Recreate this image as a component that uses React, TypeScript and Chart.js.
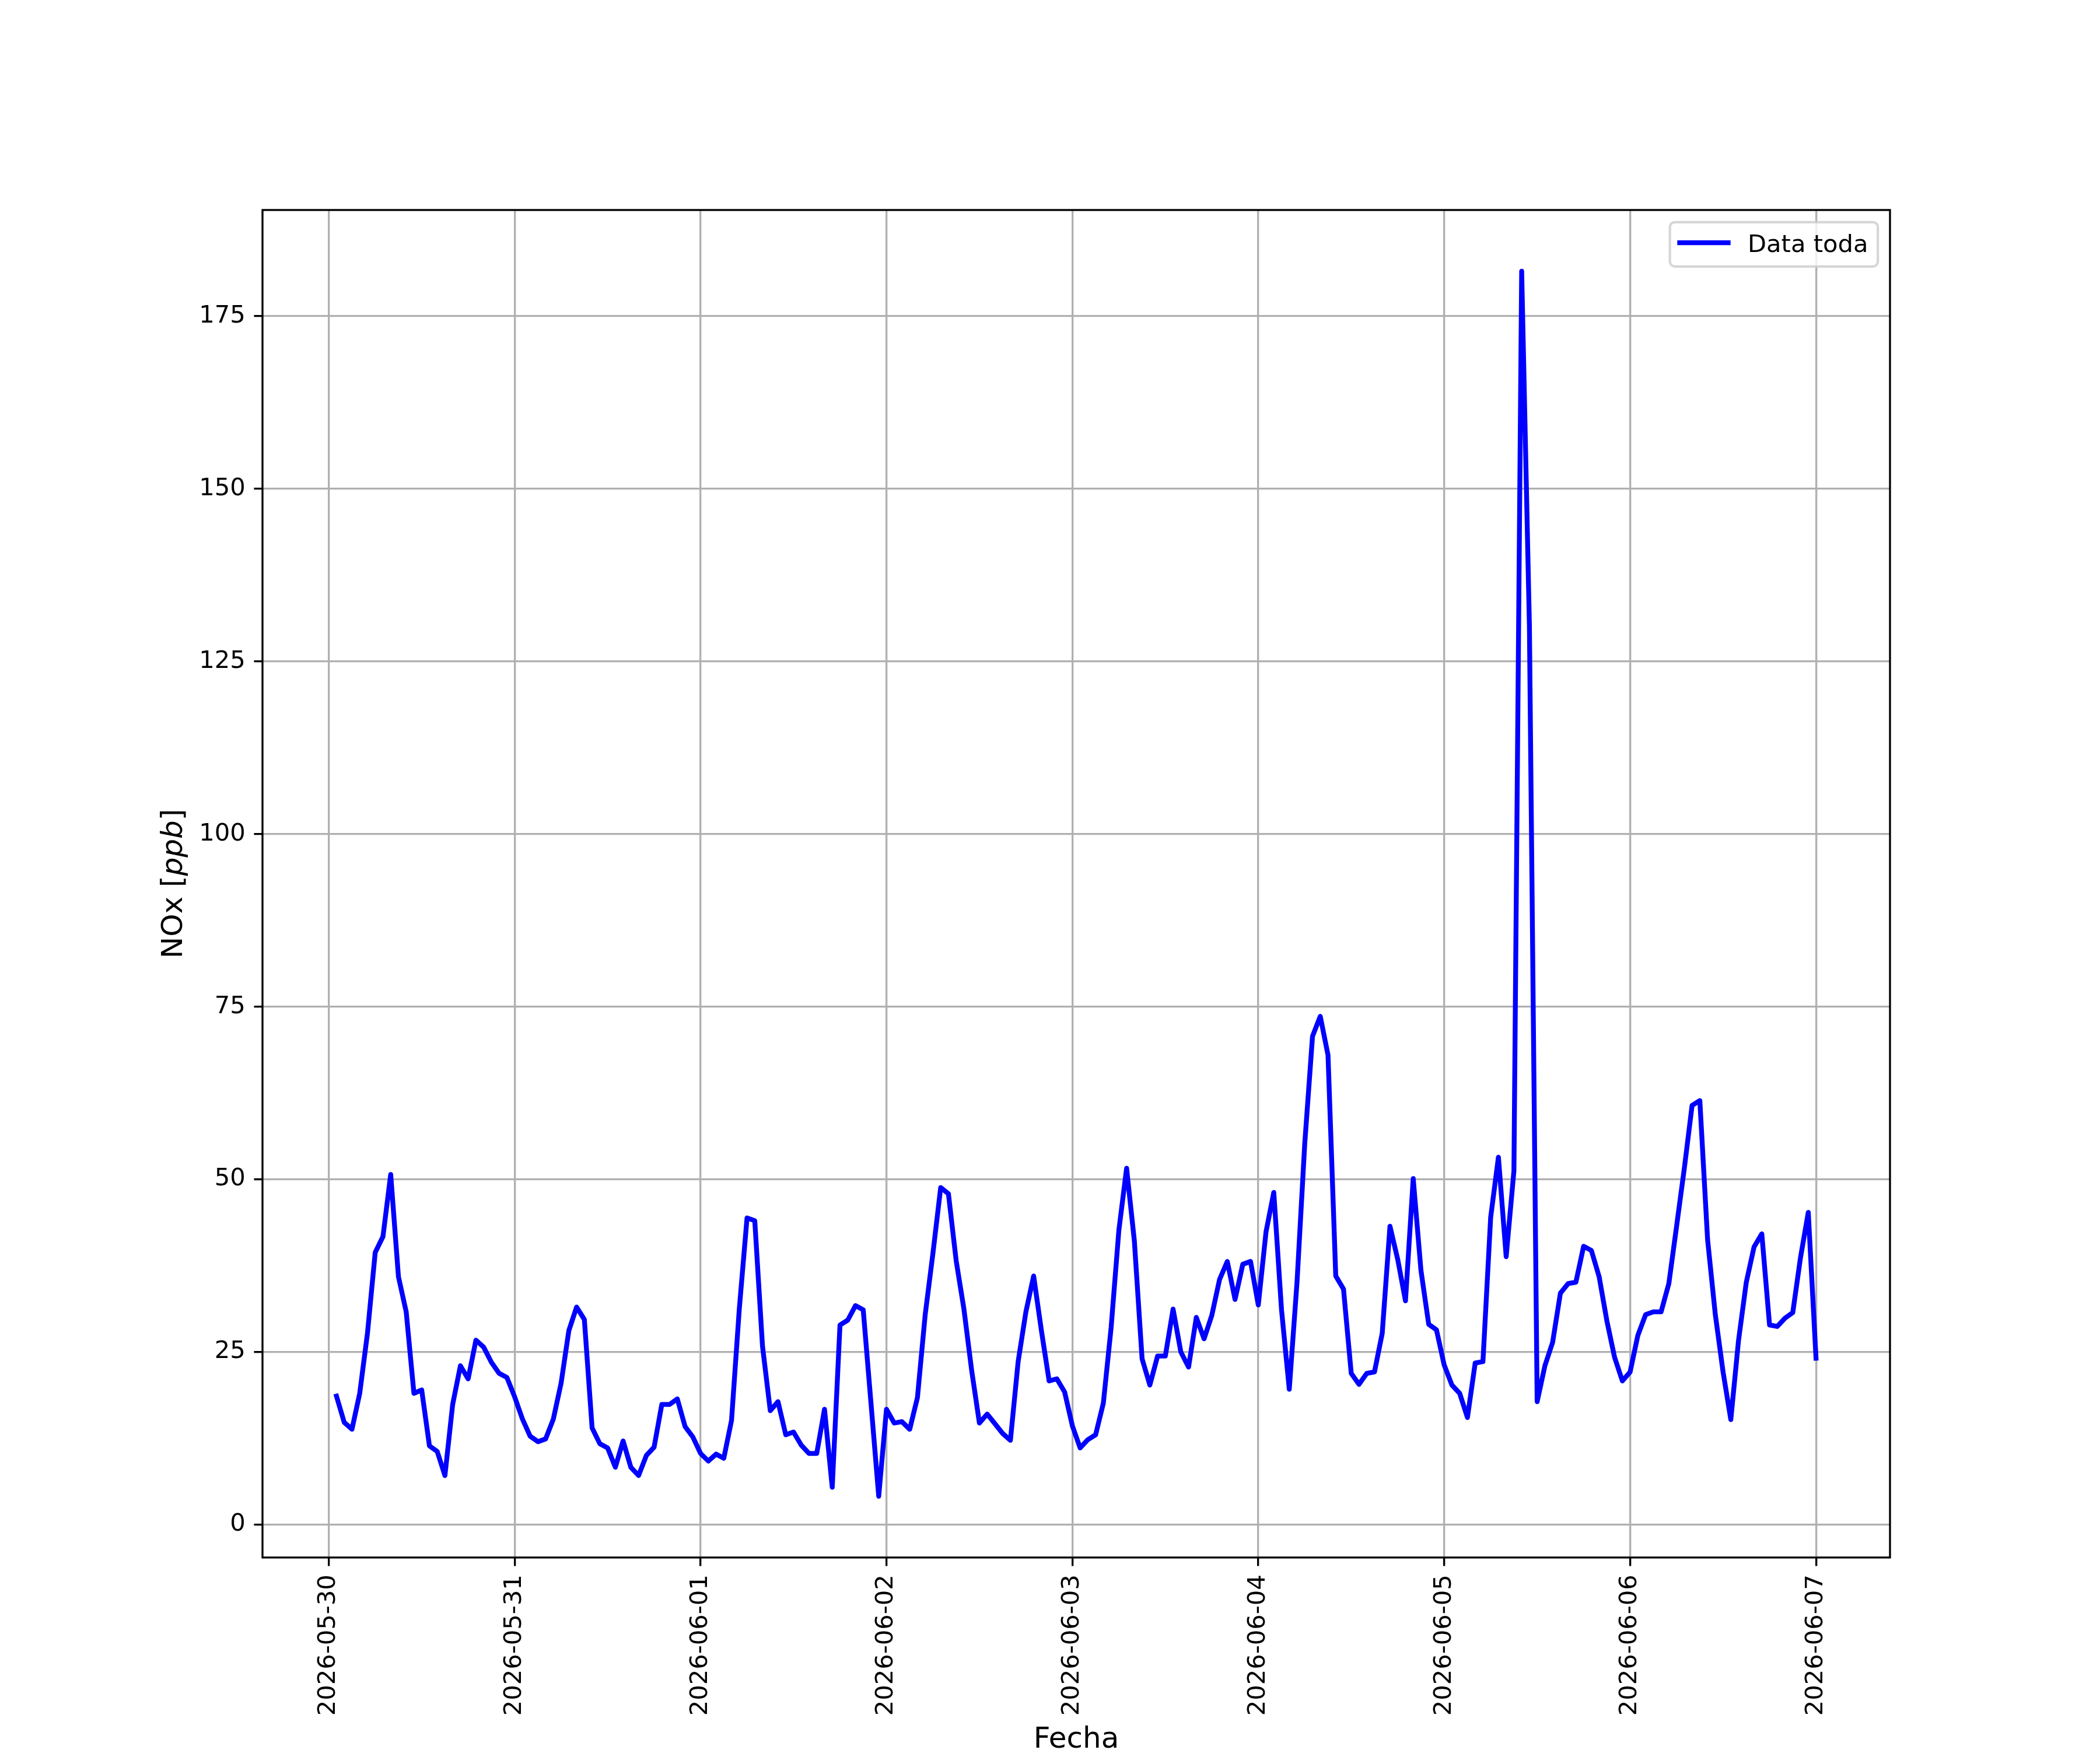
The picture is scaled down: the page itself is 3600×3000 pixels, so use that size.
import React, { useEffect, useRef } from 'react';
import { Chart, registerables } from 'chart.js';

Chart.register(...registerables);

// ---- data (hourly NOx, ppb) ----
const dayLabels = [
  '2026-05-30', '2026-05-31', '2026-06-01', '2026-06-02', '2026-06-03',
  '2026-06-04', '2026-06-05', '2026-06-06', '2026-06-07',
];
const firstHour = 1; // first sample: 2026-05-30 01:00

const nox0530 = [18.6, 14.8, 13.8, 19.0, 27.7, 39.4, 41.7, 50.7, 35.9, 30.8, 19.0, 19.5, 11.4, 10.6, 7.1, 17.4, 23.0, 21.1, 26.7, 25.7, 23.5, 21.9, 21.3];
const nox0531 = [18.5, 15.3, 12.8, 12.0, 12.4, 15.3, 20.5, 28.1, 31.5, 29.7, 14.0, 11.7, 11.1, 8.3, 12.1, 8.3, 7.1, 10.0, 11.2, 17.4, 17.4, 18.2, 14.2, 12.7];
const nox0601 = [10.3, 9.2, 10.2, 9.6, 15.1, 31.2, 44.4, 44.0, 25.8, 16.5, 17.8, 13.0, 13.4, 11.5, 10.3, 10.3, 16.7, 5.4, 28.9, 29.6, 31.7, 31.1, 17.6, 4.1];
const nox0602 = [16.7, 14.7, 14.9, 13.8, 18.4, 30.4, 39.3, 48.8, 47.9, 38.2, 31.2, 22.3, 14.7, 16.0, 14.6, 13.2, 12.2, 23.6, 30.8, 36.0, 28.1, 20.8, 21.1, 19.2];
const nox0603 = [14.3, 11.1, 12.3, 13.0, 17.6, 28.5, 42.6, 51.6, 41.1, 24.0, 20.2, 24.4, 24.4, 31.2, 25.0, 22.8, 30.0, 26.9, 30.3, 35.5, 38.1, 32.6, 37.7, 38.1];
const nox0604 = [31.8, 42.4, 48.1, 31.1, 19.6, 35.1, 55.2, 70.7, 73.6, 68.0, 36.0, 34.1, 21.9, 20.3, 21.9, 22.1, 27.7, 43.2, 38.4, 32.4, 50.1, 36.8, 29.0, 28.2];
const nox0605 = [23.1, 20.2, 19.0, 15.5, 23.4, 23.6, 44.5, 53.2, 38.8, 51.2, 181.5, 130.2, 17.8, 23.0, 26.4, 33.5, 34.9, 35.1, 40.3, 39.7, 35.9, 29.5, 24.2, 20.8];
const nox0606 = [22.1, 27.4, 30.4, 30.8, 30.8, 34.9, 43.2, 51.6, 60.7, 61.4, 41.3, 30.4, 22.1, 15.2, 26.7, 35.1, 40.2, 42.1, 28.9, 28.7, 29.9, 30.7, 38.7, 45.2];
const nox0607 = [24.1];

const noxValues = [
  ...nox0530, ...nox0531, ...nox0601, ...nox0602, ...nox0603,
  ...nox0604, ...nox0605, ...nox0606, ...nox0607,
];

const yTickValues = [0, 25, 50, 75, 100, 125, 150, 175];
const xTickValues = dayLabels.map((_, i) => i * 24);

const seriesLabel = 'Data toda';
const xTitle = 'Fecha';

// ---- styling (matplotlib-like at 300 dpi) ----
const PT = 300 / 72;
const W = 3600;
const H = 3000;
const AREA = { left: 450, right: 3240, top: 360, bottom: 2670 };
const TICK_FONT = 10 * PT;
const LABEL_FONT = 12 * PT;
const FAMILY = '"DejaVu Sans"';

export default function App() {
  const ref = useRef<HTMLCanvasElement>(null);

  useEffect(() => {
    document.body.style.margin = '0';
    const canvas = ref.current!;

    const points = noxValues.map((v, i) => ({ x: firstHour + i, y: v }));
    const xs = points.map((p) => p.x);
    const ys = points.map((p) => p.y);
    const xMinD = Math.min(...xs), xMaxD = Math.max(...xs);
    const yMinD = Math.min(...ys), yMaxD = Math.max(...ys);
    const xm = (xMaxD - xMinD) * 0.05;
    const ym = (yMaxD - yMinD) * 0.05;

    const decorations = {
      id: 'mplDecorations',
      afterDatasetsDraw(chart: any) {
        const { ctx, chartArea: a } = chart;
        ctx.save();
        ctx.strokeStyle = '#000';
        ctx.lineWidth = 0.8 * PT;
        ctx.strokeRect(a.left, a.top, a.right - a.left, a.bottom - a.top);
        ctx.restore();
      },
      afterDraw(chart: any) {
        const { ctx, chartArea: a } = chart;
        ctx.save();
        ctx.fillStyle = '#000';

        // x title
        ctx.font = `${LABEL_FONT}px ${FAMILY}`;
        ctx.textAlign = 'center';
        ctx.textBaseline = 'alphabetic';
        ctx.fillText(xTitle, (a.left + a.right) / 2, 2996);

        // y title: NOx [ppb] with italic ppb
        const parts: [string, string][] = [
          ['NOx [', `${LABEL_FONT}px ${FAMILY}`],
          ['ppb', `italic ${LABEL_FONT}px ${FAMILY}`],
          [']', `${LABEL_FONT}px ${FAMILY}`],
        ];
        let total = 0;
        const widths = parts.map(([t, f]) => {
          ctx.font = f;
          const w = ctx.measureText(t).width;
          total += w;
          return w;
        });
        ctx.translate(312, (a.top + a.bottom) / 2);
        ctx.rotate(-Math.PI / 2);
        ctx.textAlign = 'left';
        let px = -total / 2;
        parts.forEach(([t, f], i) => {
          ctx.font = f;
          ctx.fillText(t, px, 0);
          px += widths[i];
        });
        ctx.restore();

        // legend
        ctx.save();
        const fs = TICK_FONT;
        ctx.font = `${fs}px ${FAMILY}`;
        const tw = ctx.measureText(seriesLabel).width;
        const pad = 0.4 * fs;
        const handle = 2.0 * fs;
        const gap = 0.8 * fs;
        const bw = pad * 2 + handle + gap + tw;
        const bh = 76;
        const right = a.right - 0.5 * fs;
        const top = a.top + 0.5 * fs;
        const left = right - bw;
        ctx.beginPath();
        (ctx as any).roundRect(left, top, bw, bh, 0.2 * fs);
        ctx.fillStyle = 'rgba(255,255,255,0.8)';
        ctx.fill();
        ctx.strokeStyle = 'rgba(204,204,204,0.8)';
        ctx.lineWidth = 1.0 * PT;
        ctx.stroke();
        ctx.beginPath();
        ctx.strokeStyle = '#0000ff';
        ctx.lineWidth = 2 * PT;
        ctx.lineCap = 'butt';
        ctx.moveTo(left + pad - 4, top + 35.3);
        ctx.lineTo(left + pad + handle + 4, top + 35.3);
        ctx.stroke();
        ctx.fillStyle = '#000';
        ctx.textAlign = 'left';
        ctx.textBaseline = 'alphabetic';
        ctx.fillText(seriesLabel, left + pad + handle + gap, top + 51);
        ctx.restore();
      },
    };

    const chart = new Chart(canvas, {
      type: 'line',
      data: {
        datasets: [
          {
            label: seriesLabel,
            data: points,
            borderColor: '#0000ff',
            backgroundColor: '#0000ff',
            borderWidth: 2 * PT,
            pointRadius: 0,
            tension: 0,
            borderJoinStyle: 'round',
            borderCapStyle: 'square',
            fill: false,
          },
        ],
      },
      options: {
        animation: false,
        responsive: false,
        maintainAspectRatio: false,
        devicePixelRatio: 1,
        layout: {
          padding: { left: 0, top: AREA.top, right: W - AREA.right, bottom: 0 },
        },
        plugins: {
          legend: { display: false },
          tooltip: { enabled: false },
          title: { display: false },
        },
        scales: {
          x: {
            type: 'linear',
            min: xMinD - xm,
            max: xMaxD + xm,
            afterBuildTicks: (s: any) => {
              s.ticks = xTickValues.map((v) => ({ value: v }));
            },
            afterFit: (s: any) => {
              s.height = H - AREA.bottom;
            },
            grid: {
              color: '#b0b0b0',
              lineWidth: 0.8 * PT,
              drawTicks: true,
              tickLength: 3.5 * PT,
              tickColor: '#000',
              tickWidth: 0.8 * PT,
            },
            border: { display: false },
            ticks: {
              autoSkip: false,
              minRotation: 90,
              maxRotation: 90,
              padding: 3.5 * PT,
              color: '#000',
              font: { family: 'DejaVu Sans', size: TICK_FONT },
              callback: (v: any) => dayLabels[Math.round(Number(v) / 24)] ?? '',
            },
          },
          y: {
            type: 'linear',
            min: yMinD - ym,
            max: yMaxD + ym,
            afterBuildTicks: (s: any) => {
              s.ticks = yTickValues.map((v) => ({ value: v }));
            },
            afterFit: (s: any) => {
              s.width = AREA.left;
            },
            grid: {
              color: '#b0b0b0',
              lineWidth: 0.8 * PT,
              drawTicks: true,
              tickLength: 3.5 * PT,
              tickColor: '#000',
              tickWidth: 0.8 * PT,
            },
            border: { display: false },
            ticks: {
              padding: 3.5 * PT,
              color: '#000',
              font: { family: 'DejaVu Sans', size: TICK_FONT },
              callback: (v: any) => String(v),
            },
          },
        },
      },
      plugins: [decorations],
    } as any);

    return () => chart.destroy();
  }, []);

  return (
    <div style={{ width: W, height: H }}>
      <canvas ref={ref} width={W} height={H} style={{ display: 'block', width: W, height: H }} />
    </div>
  );
}
